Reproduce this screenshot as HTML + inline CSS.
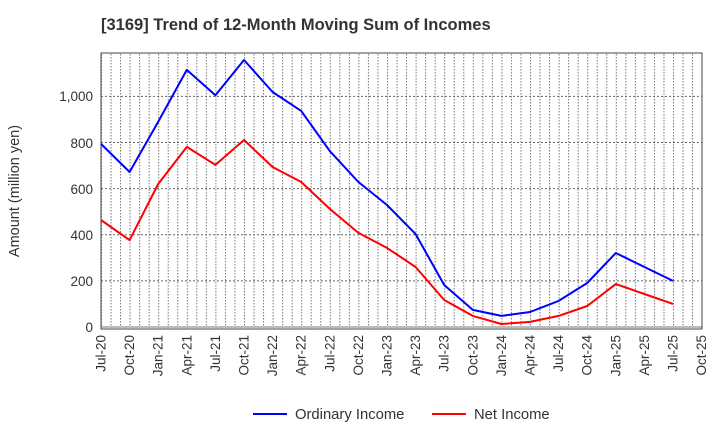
<!DOCTYPE html>
<html><head><meta charset="utf-8"><style>body{margin:0;background:#fff}svg{display:block}text{font-family:"Liberation Sans",Arial,sans-serif}</style></head><body>
<svg width="720" height="440" viewBox="0 0 720 440" xmlns="http://www.w3.org/2000/svg">
<defs>
<pattern id="vg" x="101" y="0" width="9.5333" height="440" patternUnits="userSpaceOnUse">
<line x1="0.5" y1="0" x2="0.5" y2="440" stroke="#777" stroke-width="1" stroke-dasharray="1.5,1.5"/>
</pattern>
</defs>
<text x="101" y="30" font-size="16.5" font-weight="bold" fill="#333">[3169]  Trend of 12-Month Moving Sum of Incomes</text>
<rect x="101" y="53" width="601" height="274" fill="url(#vg)"/>
<g stroke="#666" stroke-width="1" stroke-dasharray="2,2">
<line x1="101" y1="280.9" x2="702" y2="280.9"/>
<line x1="101" y1="234.8" x2="702" y2="234.8"/>
<line x1="101" y1="188.6" x2="702" y2="188.6"/>
<line x1="101" y1="142.5" x2="702" y2="142.5"/>
<line x1="101" y1="96.4" x2="702" y2="96.4"/>
</g>
<line x1="101" y1="327" x2="702" y2="327" stroke="#777"/>
<rect x="101" y="53" width="601" height="276" fill="none" stroke="#444" stroke-width="1"/>
<g font-size="13.5" fill="#333" text-anchor="end">
<text x="93" y="332">0</text>
<text x="93" y="286">200</text>
<text x="93" y="240">400</text>
<text x="93" y="194">600</text>
<text x="93" y="148">800</text>
<text x="93" y="101">1,000</text>
</g>
<text transform="translate(19,191) rotate(-90)" font-size="14.5" fill="#333" text-anchor="middle">Amount (million yen)</text>
<g font-size="13.5" fill="#333" text-anchor="end">
<text transform="translate(105.5,335) rotate(-90)">Jul-20</text>
<text transform="translate(134.1,335) rotate(-90)">Oct-20</text>
<text transform="translate(162.7,335) rotate(-90)">Jan-21</text>
<text transform="translate(191.3,335) rotate(-90)">Apr-21</text>
<text transform="translate(219.9,335) rotate(-90)">Jul-21</text>
<text transform="translate(248.5,335) rotate(-90)">Oct-21</text>
<text transform="translate(277.1,335) rotate(-90)">Jan-22</text>
<text transform="translate(305.7,335) rotate(-90)">Apr-22</text>
<text transform="translate(334.3,335) rotate(-90)">Jul-22</text>
<text transform="translate(362.9,335) rotate(-90)">Oct-22</text>
<text transform="translate(391.5,335) rotate(-90)">Jan-23</text>
<text transform="translate(420.1,335) rotate(-90)">Apr-23</text>
<text transform="translate(448.7,335) rotate(-90)">Jul-23</text>
<text transform="translate(477.3,335) rotate(-90)">Oct-23</text>
<text transform="translate(505.9,335) rotate(-90)">Jan-24</text>
<text transform="translate(534.5,335) rotate(-90)">Apr-24</text>
<text transform="translate(563.1,335) rotate(-90)">Jul-24</text>
<text transform="translate(591.7,335) rotate(-90)">Oct-24</text>
<text transform="translate(620.3,335) rotate(-90)">Jan-25</text>
<text transform="translate(648.9,335) rotate(-90)">Apr-25</text>
<text transform="translate(677.5,335) rotate(-90)">Jul-25</text>
<text transform="translate(706.1,335) rotate(-90)">Oct-25</text>
</g>
<polyline fill="none" stroke="#0000ff" stroke-width="2" stroke-linejoin="round" points="101,143.9 129.6,172 158.2,121.8 186.8,69.9 215.4,95.2 244,60 272.6,92 301.2,110.9 329.8,151.1 358.4,182 387,205 415.6,234.1 444.2,285 472.8,309.9 501.4,315.9 530,312 558.6,300.9 587.2,283 615.8,253 644.4,267 673,280.9"/>
<polyline fill="none" stroke="#ff0000" stroke-width="2" stroke-linejoin="round" points="101,220 129.6,240.1 158.2,184 186.8,146.9 215.4,164.9 244,140 272.6,167 301.2,182 329.8,208.9 358.4,232.9 387,247.9 415.6,267 444.2,300 472.8,315.9 501.4,324 530,321.9 558.6,315.9 587.2,306 615.8,284.1 644.4,294 673,303.9"/>
<line x1="253" y1="414" x2="287" y2="414" stroke="#0000ff" stroke-width="2"/>
<text x="295" y="419" font-size="14.8" fill="#333">Ordinary Income</text>
<line x1="432" y1="414" x2="466" y2="414" stroke="#ff0000" stroke-width="2"/>
<text x="474" y="419" font-size="14.8" fill="#333">Net Income</text>
</svg>
</body></html>
